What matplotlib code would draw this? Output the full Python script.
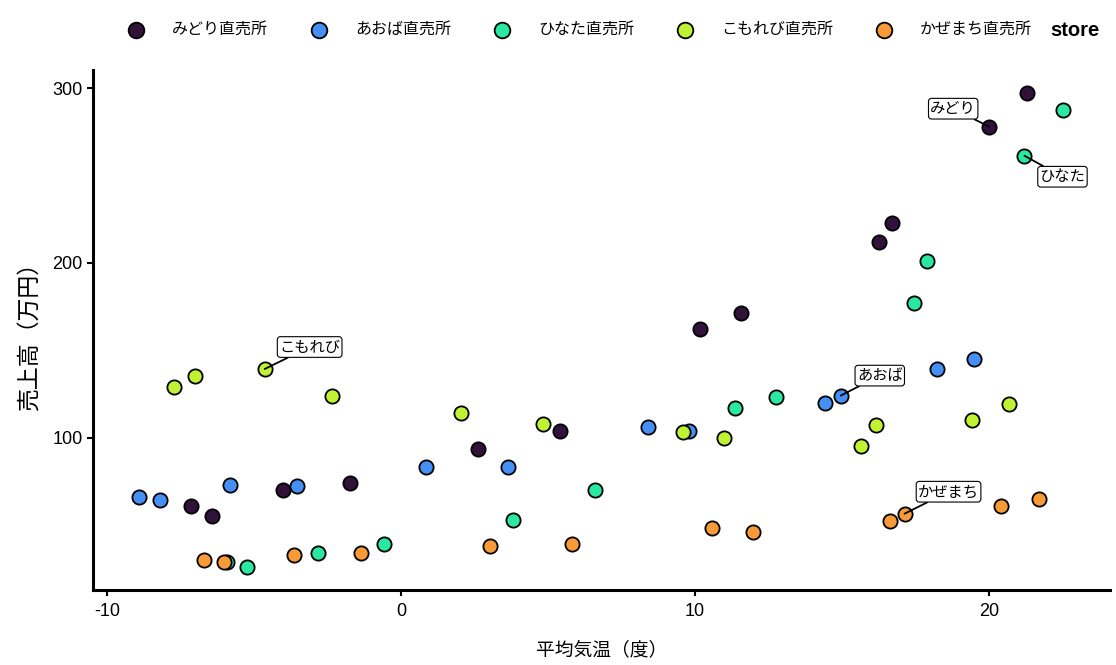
#!/usr/bin/env python3
# -*- coding: utf-8 -*-
"""
Scatter: monthly mean temperature vs sales, per store
"""

import matplotlib
matplotlib.use("Agg")
import matplotlib.pyplot as plt


## Data
stores = ["みどり直売所", "あおば直売所", "ひなた直売所", "こもれび直売所", "かぜまち直売所"]
short_names = ["みどり", "あおば", "ひなた", "こもれび", "かぜまち"]

temp_midori = [-7.13, -6.44, -4.02, -1.73, 2.61, 5.41, 10.16, 11.55, 16.26, 16.72, 20.01, 21.30]
sales_midori = [61.3, 55.6, 70.3, 74.5, 93.5, 104.2, 162.3, 171.6, 212.0, 223.0, 277.9, 297.3]

temp_aoba = [-8.92, -8.21, -5.82, -3.55, 0.84, 3.63, 8.39, 9.81, 14.44, 14.96, 18.22, 19.51]
sales_aoba = [66.5, 64.7, 73.3, 72.7, 83.6, 83.6, 106.5, 104.2, 119.8, 124.2, 139.6, 145.3]

temp_hinata = [-5.93, -5.25, -2.83, -0.57, 3.80, 6.59, 11.35, 12.74, 17.44, 17.90, 21.21, 22.51]
sales_hinata = [29.3, 26.5, 34.5, 39.6, 53.3, 70.3, 117.3, 123.6, 177.3, 201.1, 261.3, 287.4]

temp_komorebi = [-7.72, -7.02, -4.64, -2.36, 2.03, 4.82, 9.58, 10.98, 15.64, 16.16, 19.42, 20.70]
sales_komorebi = [129.3, 135.4, 139.4, 124.2, 114.5, 108.2, 103.6, 100.2, 95.4, 107.6, 110.5, 119.6]

temp_kazemachi = [-6.71, -6.03, -3.65, -1.37, 3.02, 5.81, 10.57, 11.96, 16.62, 17.13, 20.40, 21.69]
sales_kazemachi = [30.5, 29.3, 33.3, 34.5, 38.5, 39.4, 48.7, 46.5, 52.7, 56.7, 61.3, 65.3]

temps = [temp_midori, temp_aoba, temp_hinata, temp_komorebi, temp_kazemachi]
sales = [sales_midori, sales_aoba, sales_hinata, sales_komorebi, sales_kazemachi]

# which point of each store gets a label
label_index = [10, 9, 10, 2, 9]

x_ticks = [-10, 0, 10, 20]
y_ticks = [100, 200, 300]

## Styles
colors = ["#30123B", "#4690F5", "#2AE8A2", "#BFF233", "#F99A38"]
# label offsets in pixels (dx, dy) from the point to the label centre
label_offsets = [(-36, 18), (39, 20), (38, -21), (45, 22), (44, 22)]

plt.rcParams["font.family"] = ["Liberation Sans", "Noto Sans CJK JP", "DejaVu Sans"]
plt.rcParams["axes.unicode_minus"] = False
jp_font = ["Noto Sans CJK JP", "DejaVu Sans"]

fig = plt.figure(figsize=(11.16, 6.65), dpi=100)
ax = fig.add_axes([93 / 1116, 75 / 665, (1110 - 93) / 1116, (590 - 70) / 665])

handles = []
for i in range(len(stores)):
    h = ax.scatter(temps[i], sales[i], s=105, color=colors[i],
                   edgecolor="black", linewidth=1.3, zorder=2, label=stores[i])
    handles.append(h)

# labels with segments
for i in range(len(stores)):
    k = label_index[i]
    ax.annotate(short_names[i], xy=(temps[i][k], sales[i][k]),
                xytext=label_offsets[i], textcoords="offset pixels",
                ha="center", va="center", fontsize=11, family=jp_font,
                bbox=dict(boxstyle="round,pad=0.12,rounding_size=0.2",
                          fc="white", ec="black", lw=0.8),
                arrowprops=dict(arrowstyle="-", color="black", lw=1.3,
                                shrinkA=0, shrinkB=0),
                zorder=4)

ax.set_xlim(-10.48, 24.12)
ax.set_ylim(13.1, 310.3)
ax.set_xticks(x_ticks)
ax.set_yticks(y_ticks)
ax.set_xticklabels([str(t) for t in x_ticks])

for side in ["top", "right"]:
    ax.spines[side].set_visible(False)
for side in ["left", "bottom"]:
    ax.spines[side].set_linewidth(2.2)
ax.tick_params(axis="both", length=4.3, width=1.5,
               labelsize=13, colors="black")
ax.tick_params(axis="x", pad=5)
ax.tick_params(axis="y", pad=3)

ax.set_xlabel("平均気温（度）", fontsize=13.5, family=jp_font, labelpad=14)
ax.set_ylabel("売上高（万円）", fontsize=16.5, family=jp_font, labelpad=8)

leg = fig.legend(handles=handles, loc="center left",
                 bbox_to_anchor=(128 / 1116, 1 - 30 / 665),
                 ncol=5, frameon=False, borderpad=0, borderaxespad=0,
                 handlelength=1.0, handletextpad=1.75, columnspacing=2.7,
                 scatterpoints=1, markerscale=1.1,
                 prop={"family": jp_font, "size": 11.5})

fig.text(1050 / 1116, 1 - 30 / 665, "store", ha="left", va="center",
         fontsize=14.5, fontweight="bold")

fig.savefig("out.png", dpi=100)
